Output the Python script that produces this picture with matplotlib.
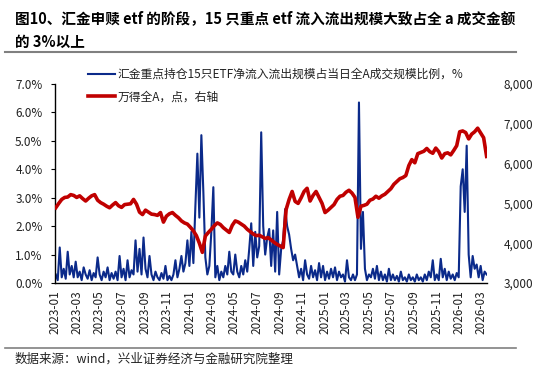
import matplotlib
matplotlib.use('Agg')
import matplotlib.pyplot as plt
import matplotlib.ticker as mticker
from matplotlib.lines import Line2D
import numpy as np
import pandas as pd

plt.rcParams['font.family'] = ['Noto Sans CJK SC', 'DejaVu Sans']

# ---------------- data ----------------
title_line1 = '图10、汇金申赎 etf 的阶段，15 只重点 etf 流入流出规模大致占全 a 成交金额'
title_line2 = '的 3%以上'
source_text = '数据来源：wind，兴业证券经济与金融研究院整理'
blue_label = '汇金重点持仓15只ETF净流入流出规模占当日全A成交规模比例，%'
red_label = '万得全A，点，右轴'

start_date = '2023-01-03'
end_date = '2026-03-16'

tick_labels = ['2023-01', '2023-03', '2023-05', '2023-07', '2023-09', '2023-11',
               '2024-01', '2024-03', '2024-05', '2024-07', '2024-09', '2024-11',
               '2025-01', '2025-03', '2025-05', '2025-07', '2025-09', '2025-11',
               '2026-01', '2026-03']

# ETF net flow share of All-A turnover, % (evenly spaced samples over the period)
etf_share = [
    0.3, 0.1, 1.25, 0.2, 0.5, 0.15, 1.1, 0.3, 0.6, 0.2,
    0.75, 0.2, 0.4, 0.1, 0.55, 0.3, 0.15, 0.45, 0.1, 0.35,
    0.2, 0.9, 0.3, 0.1, 0.4, 0.2, 0.55, 0.1, 0.35, 0.15,
    0.4, 0.1, 0.95, 0.2, 0.5, 0.1, 0.8, 0.2, 0.45, 0.3,
    1.5, 0.4, 1.2, 0.3, 1.6, 0.5, 0.2, 0.95, 0.3, 0.1,
    0.4, 0.2, 0.1, 0.35, 0.15, 0.6, 0.1, 0.25, 0.1, 0.3,
    0.8, 0.2, 0.5, 0.95, 0.4, 0.7, 1.5, 0.6, 1.8, 0.7,
    2.7, 4.55, 2.3, 5.2, 3.2, 0.9, 0.3, 0.6, 1.8, 3.37,
    0.2, 0.6, 0.1, 0.4, 0.2, 0.6, 0.3, 1.1, 0.4, 0.3,
    1.0, 0.4, 0.2, 0.6, 0.3, 0.8, 0.4, 1.2, 2.1, 0.6,
    1.8, 0.9, 1.3, 5.3, 2.0, 1.0, 1.6, 1.9, 0.6, 1.85,
    0.4, 2.5, 0.3, 1.2, 1.5, 2.6, 2.0, 1.7, 1.2, 0.8,
    1.0, 0.6, 0.2, 0.5, 0.1, 0.8, 0.3, 0.15, 0.6, 0.2,
    0.45, 0.1, 0.7, 0.2, 0.6, 0.1, 0.4, 0.15, 0.5, 0.2,
    0.55, 0.1, 0.4, 0.2, 0.3, 0.05, 0.8, 0.2, 0.1, 0.3,
    0.1, 0.3, 6.35, 1.2, 2.5, 0.5, 0.1, 0.3, 0.2, 0.5,
    0.15, 0.6, 0.1, 0.4, 0.1, 0.3, 0.05, 0.5, 0.1, 0.3,
    0.1, 0.25, 0.05, 0.4, 0.1, 0.2, 0.05, 0.3, 0.1, 0.2,
    0.05, 0.3, 0.1, 0.2, 0.05, 0.3, 0.1, 0.4, 0.2, 0.8,
    0.1, 0.3, 0.1, 0.85, 0.2, 0.5, 0.1, 0.4, 0.15, 0.3,
    0.1, 0.35, 0.2, 3.4, 4.0, 2.5, 4.83, 1.0, 0.2, 0.95,
    0.5, 0.65, 0.2, 0.6, 0.1, 0.4, 0.3,
]

# Wind All A index, points (evenly spaced samples over the period)
wind_all_a = [
    4890, 5000, 5100, 5150, 5160, 5220, 5200, 5150, 5190, 5120,
    5060, 5130, 5190, 5220, 5080, 5020, 4980, 4930, 4890, 4960,
    5020, 4940, 4900, 4970, 4980, 4990, 5100, 4980, 4780, 4720,
    4830, 4780, 4730, 4720, 4700, 4770, 4530, 4680, 4740, 4770,
    4700, 4640, 4560, 4510, 4480, 4400, 4310, 4190, 4000, 3770,
    4180, 4270, 4350, 4440, 4510, 4470, 4390, 4330, 4270, 4450,
    4560, 4530, 4480, 4430, 4350, 4290, 4230, 4190, 4200, 4160,
    4120, 4140, 4080, 4020, 3970, 3930, 3890, 4850, 5100, 5300,
    5050, 5000, 5140, 5300, 5380, 5060, 5200, 5300, 5150, 5000,
    4770, 4830, 4900, 4970, 5100, 5180, 5200, 5280, 5330, 5260,
    5150, 4650, 4930, 4950, 4980, 5080, 5110, 5180, 5130, 5190,
    5230, 5300, 5370, 5480, 5550, 5620, 5650, 5700, 5950, 6100,
    6020, 6250, 6280, 6310, 6380, 6300, 6260, 6390, 6300, 6140,
    6250, 6270, 6220, 6330, 6450, 6800, 6820, 6780, 6620, 6740,
    6800, 6890, 6770, 6650, 6180,
]

# ---------------- figure ----------------
W, H = 550, 375
fig = plt.figure(figsize=(W / 100, H / 100), dpi=100)

t0 = pd.Timestamp(start_date).value
t1 = pd.Timestamp(end_date).value
blue_dates = pd.to_datetime(np.linspace(t0, t1, len(etf_share)))
red_dates = pd.to_datetime(np.linspace(t0, t1, len(wind_all_a)))

ax = fig.add_axes([55 / W, 1 - 283 / H, 432 / W, 199 / H])
blue_color = '#0b2a8a'
red_color = '#c00000'
text_color = '#222222'

l1, = ax.plot(blue_dates, etf_share, color=blue_color, lw=1.5, zorder=2)
ax.set_ylim(0, 7)
ax.yaxis.set_major_locator(mticker.MultipleLocator(1))
ax.yaxis.set_major_formatter(mticker.FuncFormatter(lambda v, p: f'{v:.1f}%'))
ax.set_xlim(pd.Timestamp('2023-01-01'), pd.Timestamp('2026-03-17'))

tick_pos = [pd.Timestamp(t + '-01') for t in tick_labels]
ax.set_xticks(tick_pos)
ax.set_xticklabels(tick_labels, rotation=90)
ax.tick_params(axis='x', length=0, pad=5, labelsize=8.5, labelcolor=text_color)
minor_pos = [pd.Timestamp(t + '-01') for t in tick_labels[2::2]]
ax.set_xticks(minor_pos, minor=True)
ax.tick_params(axis='x', which='minor', direction='in', length=3, width=0.8)
ax.tick_params(axis='y', direction='out', length=3, width=0.8, pad=6,
               labelsize=8.5, labelcolor=text_color)

for s in ['top', 'right']:
    ax.spines[s].set_visible(False)
for s in ['left', 'bottom']:
    ax.spines[s].set_color('black')
    ax.spines[s].set_linewidth(1.0)

ax2 = ax.twinx()
l2, = ax2.plot(red_dates, wind_all_a, color=red_color, lw=2.6, zorder=3)
ax2.set_ylim(3000, 8000)
ax2.yaxis.set_major_locator(mticker.MultipleLocator(1000))
ax2.yaxis.set_major_formatter(mticker.FuncFormatter(lambda v, p: f'{v:,.0f}'))
ax2.tick_params(axis='y', length=0, pad=12, labelsize=8.5, labelcolor=text_color)
for s in ax2.spines.values():
    s.set_visible(False)

fig.legend([l1, l2], [blue_label, red_label], loc='upper left',
           bbox_to_anchor=(88 / W, 1 - 68 / H), frameon=False, fontsize=8.5,
           handlelength=2.3, handletextpad=0.2, labelspacing=0.8,
           borderpad=0, borderaxespad=0, labelcolor=text_color)

fig.text(15 / W, 1 - 18 / H, title_line1, fontsize=10.5, weight='bold',
         va='center', ha='left', color='black')
fig.text(15 / W, 1 - 42 / H, title_line2, fontsize=10.5, weight='bold',
         va='center', ha='left', color='black')
fig.add_artist(Line2D([5 / W, 516 / W], [1 - 52 / H, 1 - 52 / H],
                      color='#808080', lw=1.5))
fig.add_artist(Line2D([5 / W, 516 / W], [1 - 348 / H, 1 - 348 / H],
                      color='#808080', lw=1.2))
fig.text(15 / W, 1 - 359 / H, source_text, fontsize=9, va='center',
         ha='left', color=text_color)

fig.savefig('out.png', dpi=100)
